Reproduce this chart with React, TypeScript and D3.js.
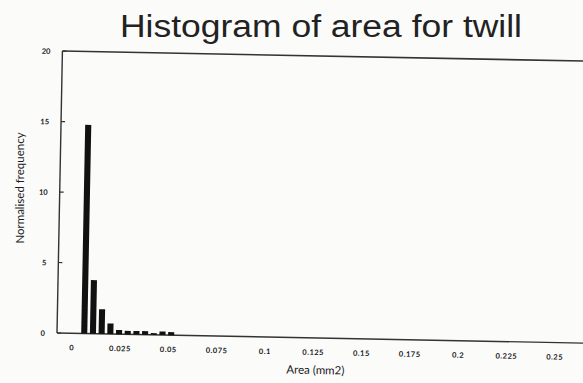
import React from "react";
import * as d3 from "d3";

const binWidth = 0.0045;
const binIndex = [1, 2, 3, 4, 5, 6, 7, 8, 9, 10, 11];
const frequency = [14.8, 3.8, 1.75, 0.75, 0.3, 0.25, 0.25, 0.25, 0.12, 0.25, 0.22];
const xTicks = [0, 0.025, 0.05, 0.075, 0.1, 0.125, 0.15, 0.175, 0.2, 0.225, 0.25];
const xTickLabels = ["0", "0.025", "0.05", "0.075", "0.1", "0.125", "0.15", "0.175", "0.2", "0.225", "0.25"];
const yTicks = [0, 5, 10, 15, 20];

const W = 583;
const H = 383;

export default function App() {
  const axisLeft = 57;
  const x = d3.scaleLinear().domain([0, 0.25]).range([72, 555]);
  const y = d3.scaleLinear().domain([0, 20]).range([333, 51]);
  const labelFont = "Lato, 'Open Sans', sans-serif";
  const ink = "#1a1a1a";

  return (
    <svg
      width={W}
      height={H}
      style={{ position: "fixed", left: 0, top: 0, background: "#fbfbfa" }}
    >
      <text
        x={120}
        y={37}
        textLength={402}
        lengthAdjust="spacingAndGlyphs"
        fontFamily="'Liberation Sans', Arial, sans-serif"
        fontSize={31}
        fill="#222"
      >
        Histogram of area for twill
      </text>
      <g transform={`rotate(1.1, ${axisLeft}, ${y(0)})`}>
        {/* frame */}
        <line x1={axisLeft} x2={620} y1={y(20)} y2={y(20)} stroke="#333" strokeWidth={1.6} />
        <line x1={axisLeft} x2={620} y1={y(0)} y2={y(0)} stroke="#333" strokeWidth={1.4} />
        <line x1={axisLeft} x2={axisLeft} y1={y(20)} y2={y(0)} stroke="#333" strokeWidth={1.4} />
        {/* y ticks */}
        {yTicks.map((t) => (
          <g key={t}>
            <line x1={axisLeft} x2={axisLeft + 4} y1={y(t)} y2={y(t)} stroke="#333" strokeWidth={1.2} />
            <text
              x={45}
              y={y(t) + 3}
              textAnchor="end"
              fontFamily={labelFont}
              fontWeight={700}
              fontSize={7.5}
              fill={ink}
            >
              {t}
            </text>
          </g>
        ))}
        {/* bars */}
        {binIndex.map((k, i) => {
          const x0 = x(k * binWidth);
          const x1 = x((k + 1) * binWidth);
          const bw = (x1 - x0) * 0.7;
          return (
            <rect
              key={k}
              x={x0 + 0.5}
              y={y(frequency[i])}
              width={bw}
              height={y(0) - y(frequency[i])}
              fill="#111"
            />
          );
        })}
        {/* x tick labels */}
        {xTicks.map((t, i) => (
          <text
            key={t}
            x={x(t)}
            y={350}
            textAnchor="middle"
            fontFamily={labelFont}
            fontWeight={700}
            fontSize={7.5}
            letterSpacing={0.5}
            fill={ink}
          >
            {xTickLabels[i]}
          </text>
        ))}
        <text
          x={316}
          y={369}
          textAnchor="middle"
          fontFamily={labelFont}
          fontSize={11.5}
          fill={ink}
        >
          Area (mm2)
        </text>
      </g>
      <text
        transform={`translate(24, 188) rotate(-90)`}
        textAnchor="middle"
        fontFamily={labelFont}
        fontSize={11.5}
        fill={ink}
      >
        Normalised frequency
      </text>
    </svg>
  );
}
